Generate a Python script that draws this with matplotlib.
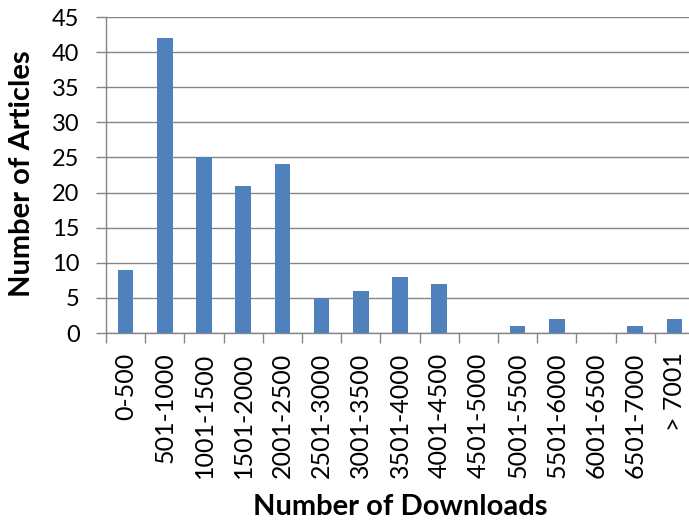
import matplotlib
matplotlib.use("Agg")
import matplotlib.pyplot as plt

plt.rcParams["font.family"] = ["Lato", "DejaVu Sans"]

# Download ranges and article counts
categories = ["0-500", "501-1000", "1001-1500", "1501-2000", "2001-2500",
              "2501-3000", "3001-3500", "3501-4000", "4001-4500", "4501-5000",
              "5001-5500", "5501-6000", "6001-6500", "6501-7000", "> 7001"]
articles = [9, 42, 25, 21, 24, 5, 6, 8, 7, 0, 1, 2, 0, 1, 2]
y_ticks = list(range(0, 50, 5))

BAR = "#4F81BD"
GRID = "#868686"

fig = plt.figure(figsize=(6.89, 5.22), dpi=100)
ax = fig.add_axes([106 / 689, 189 / 522, 588 / 689, 316 / 522])

x = list(range(len(categories)))
ax.bar(x, articles, width=0.4, color=BAR, zorder=3)

ax.set_xlim(-0.5, len(categories) - 0.5)
ax.set_ylim(0, 45)
ax.set_yticks(y_ticks)
ax.yaxis.grid(True, color=GRID, linewidth=1.0, zorder=0)
ax.set_axisbelow(True)

# category boundaries carry the tick marks, labels sit at centers
ax.set_xticks([i - 0.5 for i in range(len(categories) + 1)])
ax.set_xticklabels([])
ax.set_xticks(x, minor=True)
ax.set_xticklabels(categories, minor=True, rotation=90, fontsize=18)
ax.tick_params(axis="x", which="major", length=7, color=GRID, width=1.0)
ax.tick_params(axis="x", which="minor", length=0, pad=14)
ax.tick_params(axis="y", length=7, color=GRID, width=1.0, pad=12, labelsize=17)

for side in ("top", "right"):
    ax.spines[side].set_visible(False)
for side in ("left", "bottom"):
    ax.spines[side].set_color(GRID)
    ax.spines[side].set_linewidth(1.0)

fig.text(400 / 689, 1 - 515 / 522, "Number of Downloads", ha="center", va="baseline",
         fontsize=21, fontweight="bold")
fig.text(22 / 689, 1 - 174 / 522, "Number of Articles", ha="center", va="center",
         rotation=90, fontsize=21, fontweight="bold")

fig.savefig("out.png", dpi=100)
